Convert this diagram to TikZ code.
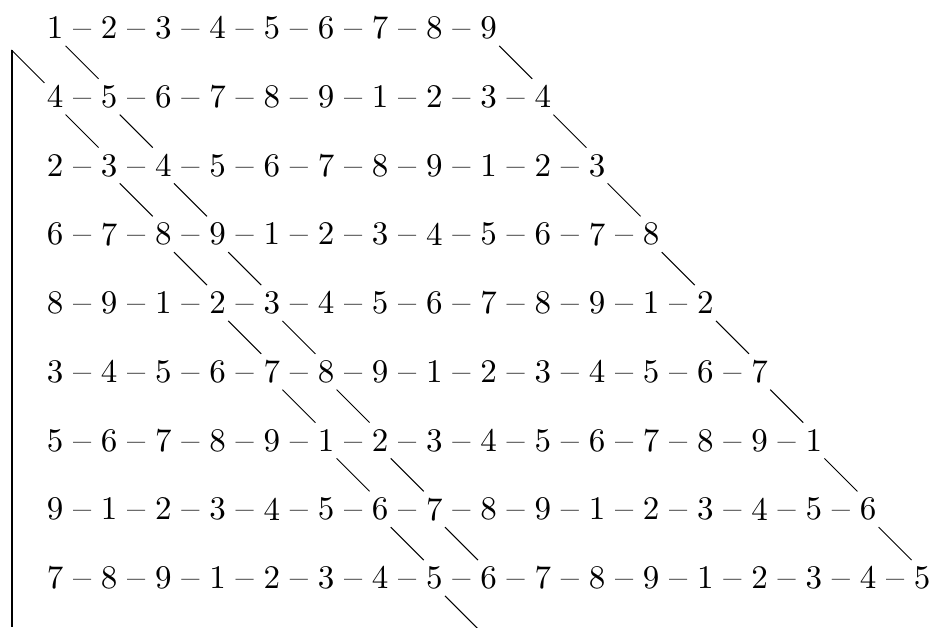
\documentclass[tikz,border=0pt]{standalone}
\usepackage{fontspec}
\setmainfont{lmroman10-regular}[Extension=.otf]
\usetikzlibrary{calc}
\newcommand\diagseg[2]{\draw[diag] ($(#1)!.5!(#2)$) ++(-16.5,-16.5) -- ++(33,33);}
\begin{document}
\begin{tikzpicture}[x=1pt,y=-1pt,
  num/.style={inner sep=0pt, font=\fontsize{33}{33}\selectfont},
  diag/.style={line width=1pt},
  vrule/.style={line width=2pt}]
\useasboundingbox (0,0) rectangle (939,627);
\def\dx{54.2}\def\dy{68.75}
\foreach \s [count=\r from 0] in {1,4,2,6,8,3,5,9,7} {
  \pgfmathtruncatemacro\n{8+\r}
  \foreach \c in {0,...,\n} {
    \pgfmathtruncatemacro\v{mod(\s-1+\c,9)+1}
    \node[num] (n\r-\c) at ({55+\c*\dx},{28+\r*\dy}) {\vphantom{0}\v};
    \ifnum\c>0
      \node[num] (d\r-\c) at ({55+(\c-0.5)*\dx},{28+\r*\dy}) {\vphantom{0}\scalebox{1.1}[1]{\textendash}};
    \fi
  }
}
\coordinate (s0) at ({55-\dx},36);
\coordinate (e8) at ({55+8*\dx},{28+9*\dy});
\foreach \r in {0,...,7} {
  \pgfmathtruncatemacro\rn{\r+1}
  \pgfmathtruncatemacro\cm{\r-1}
  \pgfmathtruncatemacro\ce{\r+8}
  \pgfmathtruncatemacro\cf{\r+9}
  \ifnum\r=0 \diagseg{s0}{n1-0}\else\diagseg{n\r-\cm}{n\rn-\r}\fi
  \diagseg{n\r-\r}{n\rn-\rn}
  \diagseg{n\r-\ce}{n\rn-\cf}
}
\diagseg{n8-7}{e8}
\coordinate (vtop) at (12,50);
\coordinate (vbot) at (12,627);
\draw[vrule] (vtop) -- (vbot);
\end{tikzpicture}
\end{document}
